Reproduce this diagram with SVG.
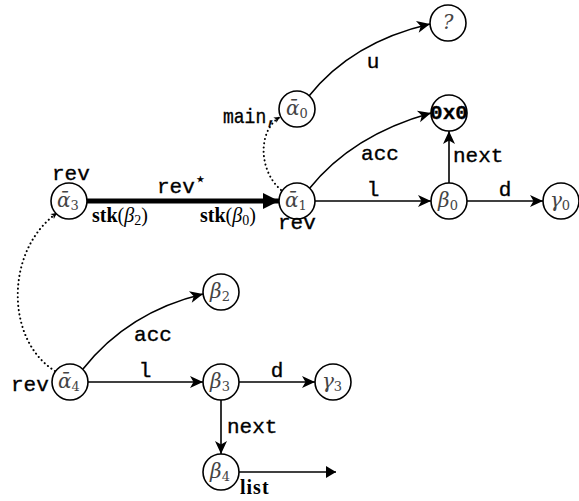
<svg xmlns="http://www.w3.org/2000/svg" width="579" height="501" viewBox="0 0 579 501">
<style>
.node circle{fill:#fff;stroke:#000;stroke-width:1.6}
.nl{font-family:"DejaVu Serif","Liberation Serif",serif;font-style:italic;font-size:20px;fill:#444;text-anchor:middle}
.sub{font-style:normal;font-size:13px}
.tt{font-family:"Liberation Mono","DejaVu Sans Mono",monospace;font-size:21px;fill:#000;stroke:#000;stroke-width:0.35}
.bf{font-family:"Liberation Serif","DejaVu Serif",serif;font-size:20px;fill:#000}
.e{fill:none;stroke:#000;stroke-width:1.6}
.thick{fill:none;stroke:#000;stroke-width:5}
.dot{fill:none;stroke:#000;stroke-width:2;stroke-dasharray:0.1 4.2;stroke-linecap:round}
</style>
<defs>
<marker id="arr" markerUnits="userSpaceOnUse" markerWidth="16" markerHeight="14" refX="14" refY="7" orient="auto" viewBox="0 0 16 14">
<path d="M14,7 L1,1 L4.5,7 L1,13 Z" fill="#000"/>
</marker>
<marker id="big" markerUnits="userSpaceOnUse" markerWidth="18" markerHeight="18" refX="17" refY="9" orient="auto" viewBox="0 0 18 18">
<path d="M17,9 L1,1 L1,17 Z" fill="#000"/>
</marker>
<marker id="mid" markerUnits="userSpaceOnUse" markerWidth="12" markerHeight="14" refX="11" refY="7" orient="auto" viewBox="0 0 12 14">
<path d="M11,7 L1,1 L1,13 Z" fill="#000"/>
</marker>
<marker id="sm" markerUnits="userSpaceOnUse" markerWidth="8" markerHeight="8" refX="7" refY="4" orient="auto" viewBox="0 0 8 8">
<path d="M7,4 L1,1 L2.5,4 L1,7 Z" fill="#000"/>
</marker>
</defs>

<g id="connectors">
<path class="e" d="M309 96 Q352 42 430 24" marker-end="url(#arr)"/>
<path class="e" d="M309 189 Q352 135 431 113" marker-end="url(#arr)"/>
<path class="e" d="M315 201 L431 201" marker-end="url(#arr)"/>
<path class="e" d="M467 201 L543 201" marker-end="url(#arr)"/>
<path class="e" d="M449 183 L449 131" marker-end="url(#arr)"/>
<path class="thick" d="M87 201 L279 201" marker-end="url(#big)"/>
<path class="dot" d="M281 190 C258 170 258 130 280 117" marker-end="url(#sm)"/>
<path class="dot" d="M55 371 C5 340 5 250 57 213" marker-end="url(#sm)"/>
<path class="e" d="M83 369 Q128 312 203 294" marker-end="url(#arr)"/>
<path class="e" d="M88 382 L203 382" marker-end="url(#arr)"/>
<path class="e" d="M239 382 L315 382" marker-end="url(#arr)"/>
<path class="e" d="M221 400 L221 454" marker-end="url(#arr)"/>
<path class="e" d="M239 472 L336 472" stroke-width="4" marker-end="url(#mid)"/>

<text class="tt" x="373" y="68" text-anchor="middle">u</text>
<text class="tt" x="380" y="160" text-anchor="middle">acc</text>
<text class="tt" x="373" y="196" text-anchor="middle">l</text>
<text class="tt" x="453" y="162">next</text>
<text class="tt" x="505" y="196" text-anchor="middle">d</text>
<text class="tt" x="157" y="193">rev<tspan font-family="DejaVu Sans,sans-serif" font-size="18" stroke-width="0.2" dy="-8">⋆</tspan></text>
<text class="bf" x="92" y="222"><tspan font-weight="bold">stk</tspan>(<tspan font-style="italic">β</tspan><tspan font-size="14" dy="3">2</tspan><tspan dy="-3">)</tspan></text>
<text class="bf" x="200" y="222"><tspan font-weight="bold">stk</tspan>(<tspan font-style="italic">β</tspan><tspan font-size="14" dy="3">0</tspan><tspan dy="-3">)</tspan></text>
<text class="tt" x="153" y="341" text-anchor="middle">acc</text>
<text class="tt" x="145" y="377" text-anchor="middle">l</text>
<text class="tt" x="277" y="377" text-anchor="middle">d</text>
<text class="tt" x="227" y="433">next</text>
<text class="bf" x="240" y="494" font-weight="bold" font-size="19" letter-spacing="1">list</text>
</g>

<g id="n-q" class="node"><circle cx="448" cy="23" r="18"/><text class="nl" x="448" y="29" font-style="normal" font-size="16">?</text></g>
<g id="n-a0" class="node"><circle cx="297" cy="109" r="18"/><text class="nl" x="297" y="115">ᾱ<tspan class="sub" dy="3">0</tspan></text></g>
<g id="n-0x0" class="node"><circle cx="449" cy="113" r="18"/><text class="tt" x="449" y="119" text-anchor="middle" font-weight="bold" font-size="19" stroke-width="0">0x0</text></g>
<g id="n-a1" class="node"><circle cx="297" cy="201" r="18"/><text class="nl" x="296" y="207">ᾱ<tspan class="sub" dy="3">1</tspan></text></g>
<g id="n-b0" class="node"><circle cx="449" cy="201" r="18"/><text class="nl" x="448" y="207">β<tspan class="sub" dy="3">0</tspan></text></g>
<g id="n-g0" class="node"><circle cx="561" cy="201" r="18"/><text class="nl" x="560" y="207">γ<tspan class="sub" dy="3">0</tspan></text></g>
<g id="n-a3" class="node"><circle cx="69" cy="201" r="18"/><text class="nl" x="68" y="207">ᾱ<tspan class="sub" dy="3">3</tspan></text></g>
<g id="n-a4" class="node"><circle cx="70" cy="382" r="18"/><text class="nl" x="69" y="388">ᾱ<tspan class="sub" dy="3">4</tspan></text></g>
<g id="n-b2" class="node"><circle cx="221" cy="292" r="18"/><text class="nl" x="220" y="298">β<tspan class="sub" dy="3">2</tspan></text></g>
<g id="n-b3" class="node"><circle cx="221" cy="382" r="18"/><text class="nl" x="220" y="388">β<tspan class="sub" dy="3">3</tspan></text></g>
<g id="n-g3" class="node"><circle cx="333" cy="382" r="18"/><text class="nl" x="332" y="388">γ<tspan class="sub" dy="3">3</tspan></text></g>
<g id="n-b4" class="node"><circle cx="221" cy="472" r="18"/><text class="nl" x="220" y="478">β<tspan class="sub" dy="3">4</tspan></text></g>

<g id="labels">
<text class="tt" x="52" y="180">rev</text>
<text class="tt" x="278" y="229">rev</text>
<text class="tt" x="223" y="123" textLength="54" lengthAdjust="spacingAndGlyphs">main,</text>
<text class="tt" x="11" y="391">rev</text>
</g>
</svg>
